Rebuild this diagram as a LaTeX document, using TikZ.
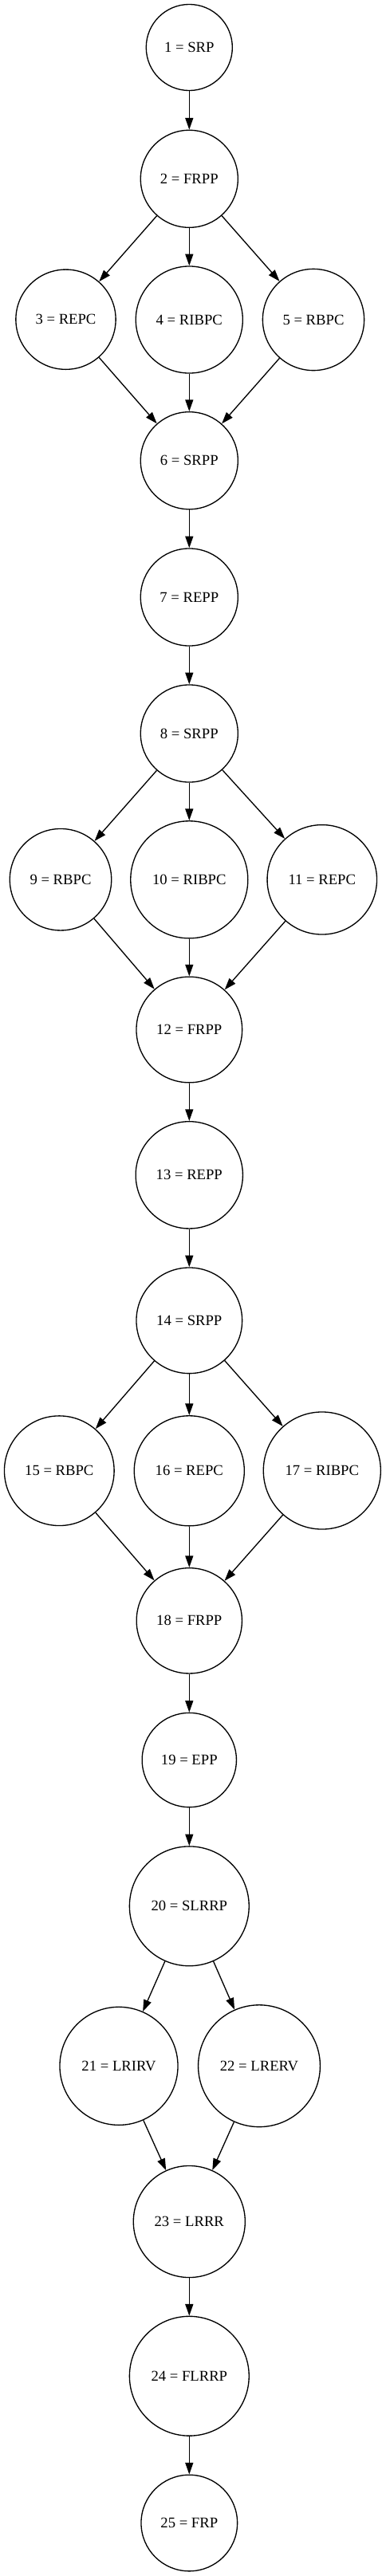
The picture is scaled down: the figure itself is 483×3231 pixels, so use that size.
\documentclass[tikz,border=0pt]{standalone}
\usepackage{fontspec}
\setmainfont{Liberation Serif}
\usetikzlibrary{arrows.meta}
\begin{document}
\begin{tikzpicture}[x=0.75pt,y=-0.75pt,
  st/.style={draw, circle, inner sep=0pt, line width=1pt, minimum size=#1*1.5pt-1pt, font=\fontsize{14pt}{16pt}\selectfont},
  arr/.style={line width=1pt, -{Triangle[length=11pt,width=7.5pt]}}]
\useasboundingbox (0,0) rectangle (483,3231);
\node[st=54.7] (n1) at (237.3,59.5) {1 = SRP};
\node[st=61.7] (n2) at (237.3,224.3) {2 = FRPP};
\node[st=63.3] (n3) at (82.5,400.7) {3 = REPC};
\node[st=67.7] (n4) at (237.3,401) {4 = RIBPC};
\node[st=64.3] (n5) at (393,401) {5 = RBPC};
\node[st=61.7] (n6) at (237.3,577.7) {6 = SRPP};
\node[st=61.7] (n7) at (237.3,749) {7 = REPP};
\node[st=61.7] (n8) at (237.3,920) {8 = SRPP};
\node[st=64.4] (n9) at (76,1103.2) {9 = RBPC};
\node[st=74.2] (n10) at (237.3,1103.3) {10 = RIBPC};
\node[st=69.4] (n11) at (403.8,1103.3) {11 = REPC};
\node[st=67] (n12) at (237.3,1291.5) {12 = FRPP};
\node[st=67.8] (n13) at (237.3,1473.8) {13 = REPP};
\node[st=67] (n14) at (237.3,1656.3) {14 = SRPP};
\node[st=69.5] (n15) at (74.3,1844.7) {15 = RBPC};
\node[st=69.7] (n16) at (237.3,1844.8) {16 = REPC};
\node[st=74.2] (n17) at (403.8,1844.5) {17 = RIBPC};
\node[st=66.8] (n18) at (237.3,2032.8) {18 = FRPP};
\node[st=59.8] (n19) at (237.3,2207.5) {19 = EPP};
\node[st=75.6] (n20) at (237.3,2390.8) {20 = SLRRP};
\node[st=74.7] (n21) at (149,2591.3) {21 = LRIRV};
\node[st=77.1] (n22) at (325,2591.2) {22 = LRERV};
\node[st=70.7] (n23) at (237.3,2786.5) {23 = LRRR};
\node[st=75.6] (n24) at (237.3,2980.2) {24 = FLRRP};
\node[st=61] (n25) at (237.3,3164.5) {25 = FRP};
\draw[arr] (n1) -- (n2);
\draw[arr] (n2) -- (n3);
\draw[arr] (n2) -- (n4);
\draw[arr] (n2) -- (n5);
\draw[arr] (n3) -- (n6);
\draw[arr] (n4) -- (n6);
\draw[arr] (n5) -- (n6);
\draw[arr] (n6) -- (n7);
\draw[arr] (n7) -- (n8);
\draw[arr] (n8) -- (n9);
\draw[arr] (n8) -- (n10);
\draw[arr] (n8) -- (n11);
\draw[arr] (n9) -- (n12);
\draw[arr] (n10) -- (n12);
\draw[arr] (n11) -- (n12);
\draw[arr] (n12) -- (n13);
\draw[arr] (n13) -- (n14);
\draw[arr] (n14) -- (n15);
\draw[arr] (n14) -- (n16);
\draw[arr] (n14) -- (n17);
\draw[arr] (n15) -- (n18);
\draw[arr] (n16) -- (n18);
\draw[arr] (n17) -- (n18);
\draw[arr] (n18) -- (n19);
\draw[arr] (n19) -- (n20);
\draw[arr] (n20) -- (n21);
\draw[arr] (n20) -- (n22);
\draw[arr] (n21) -- (n23);
\draw[arr] (n22) -- (n23);
\draw[arr] (n23) -- (n24);
\draw[arr] (n24) -- (n25);
\end{tikzpicture}
\end{document}
